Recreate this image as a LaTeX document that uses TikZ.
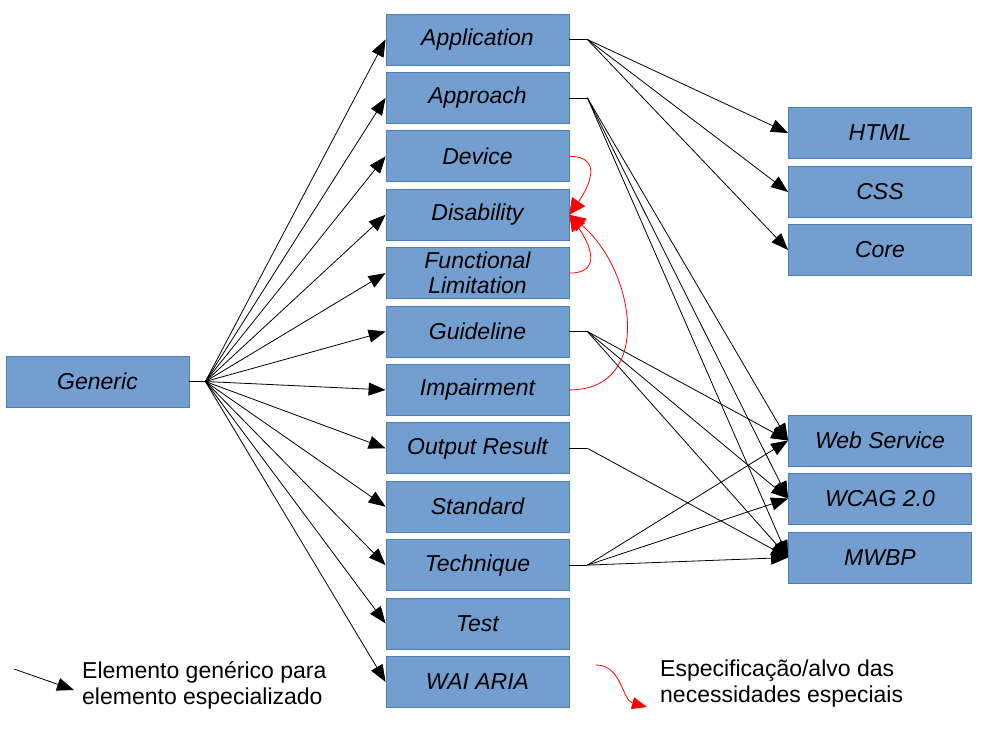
\documentclass[tikz,border=0pt]{standalone}
\usepackage{fontspec}
\setmainfont{Liberation Sans}
\usetikzlibrary{arrows.meta}
\definecolor{boxfill}{HTML}{729FCF}
\definecolor{boxline}{HTML}{4A7EBB}
\definecolor{spec}{HTML}{FF0000}
\begin{document}
\begin{tikzpicture}[x=1pt,y=-1pt,
  box/.style={draw=boxline,fill=boxfill,line width=0.8pt,minimum width=183pt,minimum height=51pt,inner sep=0pt,font=\fontsize{23}{25}\selectfont\itshape,align=center},
  gen/.style={draw=black,line width=0.8pt,-{Triangle[length=17pt,width=13pt]}},
  spc/.style={draw=spec,line width=0.8pt,-{Triangle[length=16pt,width=16pt]}},
  legend/.style={font=\fontsize{23}{26}\selectfont,align=left,anchor=west,inner sep=0pt}]
\useasboundingbox (0,0) rectangle (983,729);
% generic
\node[box] (generic) at (97.5,381.5) {Generic};
% middle column
\foreach \n/\t [count=\i from 0] in {app/Application,appr/Approach,dev/Device,dis/Disability,fl/{Functional\\Limitation},gl/Guideline,imp/Impairment,out/Output Result,std/Standard,tech/Technique,test/Test,wai/WAI ARIA}{
  \node[box] (\n) at (477.5,{39.5+58.4*\i}) {\t};
}
% right column
\node[box] (html) at (880,133) {HTML};
\node[box] (css) at (880,192) {CSS};
\node[box] (core) at (880,250) {Core};
\node[box] (ws) at (880,440.5) {Web Service};
\node[box] (wcag) at (880,498.5) {WCAG 2.0};
\node[box] (mwbp) at (880,557.5) {MWBP};
% fork points
\coordinate (gf) at ([xshift=16pt]generic.east);
\draw[line width=0.8pt] (generic.east) -- (gf);
\foreach \n in {app,appr,dev,dis,fl,gl,imp,out,std,tech,test,wai}{
  \draw[gen] (gf) -- (\n.west);
}
\foreach \n in {app,appr,gl,out,tech}{
  \coordinate (\n f) at ([xshift=18pt]\n.east);
  \draw[line width=0.8pt] (\n.east) -- (\n f);
}
\foreach \t in {html,css,core}{\draw[gen] (appf) -- (\t.west);}
\foreach \t in {ws,wcag,mwbp}{
  \draw[gen] (apprf) -- (\t.west);
  \draw[gen] (glf) -- (\t.west);
  \draw[gen] (techf) -- (\t.west);
}
\draw[gen] (outf) -- (mwbp.west);
% red specification curves
\draw[spc] (dev.east) to[out=0,in=55,looseness=1.5] (dis.east);
\draw[spc] (fl.east) to[out=0,in=-55,looseness=1.5] (dis.east);
\draw[spc] (imp.east) to[out=0,in=-40,looseness=1.25] (dis.east);
% legend
\coordinate (la1) at (14,669);
\coordinate (la2) at (74,690);
\draw[gen] (la1) -- (la2);
\node[legend] (lt1) at (82,685) {Elemento genérico para\\elemento especializado};
\coordinate (lr1) at (596,665);
\coordinate (lr2) at (647,707);
\draw[spc,-{Triangle[length=15pt,width=12pt]}] (lr1) to[out=0,in=165] (lr2);
\node[legend] (lt2) at (660,684) {Especificação/alvo das\\necessidades especiais};
\end{tikzpicture}
\end{document}
